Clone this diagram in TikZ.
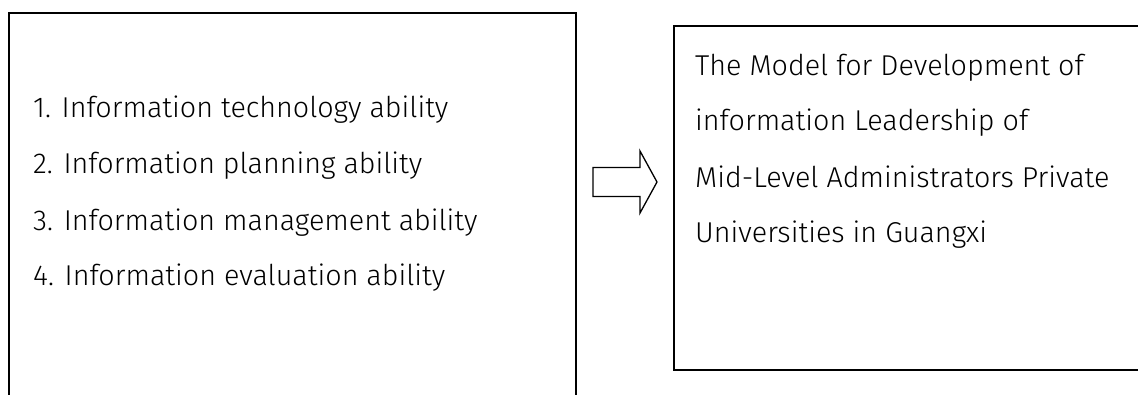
\documentclass[tikz,border=0pt]{standalone}
\usepackage{fontspec}
\setmainfont{Fira Sans}[UprightFont=* Light]
\begin{document}
\begin{tikzpicture}[x=1pt,y=-1pt,
  frame/.style={draw=black,line width=1.6pt},
  item/.style={anchor=base west,inner sep=0pt,font=\fontsize{28.7}{32}\selectfont},
  blockarrow/.style={draw=black,line width=1.3pt,line join=miter}]
\useasboundingbox (0,0) rectangle (1138,394);
% left box: open at the bottom edge of the page
\draw[frame] (9,400) -- (9,13) -- (576,13) -- (576,400);
% right box: runs past the right edge of the page
\draw[frame] (1145,26) -- (674,26) -- (674,370) -- (1145,370);
\node[item] (l1) at (33,117) {1. Information technology ability};
\node[item] (l2) at (33,173) {2. Information planning ability};
\node[item] (l3) at (33,230) {3. Information management ability};
\node[item] (l4) at (33,285) {4. Information evaluation ability};
\node[item] (r1) at (695,75) {The Model for Development of};
\node[item] (r2) at (695,130) {information Leadership of};
\node[item] (r3) at (695,187) {Mid-Level Administrators Private};
\node[item] (r4) at (695,242) {Universities in Guangxi};
% hollow block arrow between the two boxes
\coordinate (tail) at (593,182);
\coordinate (tip) at (657,182);
\draw[blockarrow] (tail) ++(0,-14.5) -- ++(47,0) -- ++(0,-16.5) -- (tip)
  -- ++(-17,31) -- ++(0,-16.5) -- ++(-47,0) -- cycle;
\end{tikzpicture}
\end{document}
